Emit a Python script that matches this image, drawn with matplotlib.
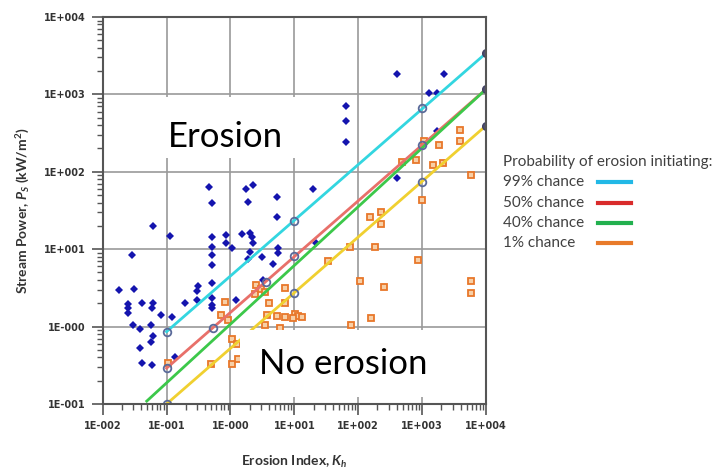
import matplotlib
matplotlib.use('Agg')
import matplotlib.pyplot as plt
from matplotlib.lines import Line2D
from matplotlib.patches import Rectangle

plt.rcParams['font.family'] = ['Lato', 'DejaVu Sans']
plt.rcParams['mathtext.fontset'] = 'custom'
plt.rcParams['mathtext.rm'] = 'Lato:weight=bold'
plt.rcParams['mathtext.it'] = 'Lato:style=italic:weight=bold'

# ---------------- data ----------------
# eroding sites (blue diamonds)
blue_x = [0.062, 0.113, 0.0284, 0.0182, 0.0309, 0.0252, 0.0252, 0.0252, 0.0417, 0.0585,
          0.062, 0.081, 0.122, 0.194, 0.030, 0.0384, 0.0564, 0.062, 0.0564, 0.0384,
          0.0417, 0.0585, 0.135, 0.313, 0.302, 0.302, 0.522, 0.522, 0.522, 0.522,
          0.522, 0.522, 0.522, 0.508, 0.466, 0.508, 1.73, 2.27, 1.85, 5.45,
          5.45, 19.8, 65.3, 65.3, 65.3, 0.851, 0.851, 1.045, 1.50, 2.02,
          2.15, 2.27, 2.02, 1.90, 3.08, 5.48, 5.48, 4.68, 21.5, 3.28,
          1.20, 399, 399, 2220, 1276, 1687, 1722]
blue_y = [20.2, 15.0, 8.4, 3.0, 3.1, 1.96, 1.72, 1.51, 2.0, 1.72,
          2.0, 1.40, 1.32, 2.0, 1.05, 0.92, 1.05, 0.76, 0.64, 0.525,
          0.342, 0.319, 0.408, 3.37, 2.91, 2.21, 14.5, 10.8, 8.4, 6.25,
          3.66, 2.34, 1.90, 1.72, 63, 39.2, 59.4, 67.5, 41.3, 46.9,
          26.1, 59.4, 708, 449, 239, 15.2, 12.0, 10.3, 15.7, 16.0,
          14.5, 12.1, 9.3, 7.47, 8.0, 10.3, 8.85, 6.44, 12.1, 3.96,
          2.22, 81.9, 1820, 1820, 1033, 1052, 340]

# non-eroding sites (orange squares)
orange_x = [0.106, 0.495, 1.045, 1.045, 1.25, 1.32, 0.71, 0.82, 0.914, 2.53,
            2.44, 3.03, 3.51, 7.21, 4.05, 7.21, 3.72, 5.35, 7.21, 10.3,
            11.4, 13.2, 9.5, 3.51, 6.01, 106, 255, 5800, 5800, 158,
            76.9, 489, 800, 1459, 1067, 1811, 3945, 3945, 2094, 5800,
            1005, 152, 224, 224, 74, 183, 34, 851]
orange_y = [0.342, 0.326, 0.326, 0.686, 0.596, 0.378, 1.43, 2.08, 1.2, 3.48,
            2.66, 3.09, 2.80, 3.15, 2.04, 2.04, 1.40, 1.37, 1.33, 1.47,
            1.37, 1.33, 1.29, 1.06, 0.96, 3.92, 3.22, 3.92, 2.74, 1.28,
            1.05, 135, 142, 122, 250, 222, 347, 250, 131, 91,
            43.2, 26.3, 30, 21, 10.6, 10.6, 7.1, 7.25]

# probability lines (end points)
p99_x = [0.1, 1e4]
p99_y = [0.86, 3400]
p50_x = [0.1, 1e4]
p50_y = [0.29, 1165]
p40_x = [0.049, 1e4]
p40_y = [0.109, 1165]
p01_x = [0.1, 1e4]
p01_y = [0.1, 394]

# open circles sitting on the lines
circ_x = [0.1, 10, 1000, 0.1, 0.54, 3.56, 10, 1000, 0.1, 10, 1000]
circ_y = [0.86, 23.3, 667, 0.289, 0.95, 3.8, 8.2, 222, 0.1, 2.72, 74.5]
end_x = [1e4, 1e4, 1e4]
end_y = [3400, 1165, 394]

xticks = [1e-2, 1e-1, 1, 1e1, 1e2, 1e3, 1e4]
xtick_labels = ['1E-002', '1E-001', '1E-000', '1E+001', '1E+002', '1E+003', '1E+004']
yticks = [1e-1, 1, 1e1, 1e2, 1e3, 1e4]
ytick_labels = ['1E-001', '1E-000', '1E+001', '1E+002', '1E+003', '1E+004']

legend_labels = ['99% chance', '50% chance', '40% chance', '1% chance']
legend_colors = ['#22b8e6', '#d92b2b', '#22b04e', '#e87a2a']

# ---------------- figure ----------------
fig = plt.figure(figsize=(7.17, 4.69), dpi=100)
ax = fig.add_axes([0.1432, 0.1386, 0.5346, 0.8252])
ax.set_xscale('log')
ax.set_yscale('log')
ax.set_xlim(1e-2, 1e4)
ax.set_ylim(1e-1, 1e4)

ax.grid(True, which='major', color='#9a9a9a', lw=1.2)
ax.set_axisbelow(True)

ax.plot(blue_x, blue_y, 'D', color='#1414ae', ms=3.9, mew=0, zorder=3)
ax.plot(orange_x, orange_y, 's', mfc='#f7cfa6', mec='#e8772a', ms=4.6, mew=1.3, zorder=3)

ax.plot(p99_x, p99_y, color='#33d6e0', lw=2, zorder=4)
ax.plot(p50_x, p50_y, color='#e8706a', lw=2, zorder=4)
ax.plot(p40_x, p40_y, color='#3cc84a', lw=2, zorder=4)
ax.plot(p01_x, p01_y, color='#f0d030', lw=2, zorder=4)

ax.plot(circ_x, circ_y, 'o', mfc='none', mec='#5a6a9a', ms=5.5, mew=1.3, zorder=5)
ax.plot(end_x, end_y, 'o', mfc='#505070', mec='#404060', ms=5.5, mew=1, zorder=5)

# white boxes behind the region labels
ax.add_patch(Rectangle((0.084, 0.636), 0.43, 0.157, transform=ax.transAxes,
                       facecolor='white', edgecolor='none', zorder=6))
ax.add_patch(Rectangle((0.358, 0.018), 0.634, 0.173, transform=ax.transAxes,
                       facecolor='white', edgecolor='none', zorder=6))
ax.text(0.320, 0.690, 'Erosion', transform=ax.transAxes, fontsize=25,
        ha='center', va='center', zorder=7)
ax.text(0.627, 0.103, 'No erosion', transform=ax.transAxes, fontsize=25,
        ha='center', va='center', zorder=7)

for s in ax.spines.values():
    s.set_color('#555555')
    s.set_linewidth(1.5)
    s.set_zorder(8)

ax.set_xticks(xticks)
ax.set_xticklabels(xtick_labels)
ax.set_yticks(yticks)
ax.set_yticklabels(ytick_labels)
ax.tick_params(which='major', length=8, width=1.2, color='#555555', pad=4,
               labelsize=7.5, labelcolor='#333333')
ax.tick_params(which='minor', length=4, width=1, color='#555555')
for lbl in ax.get_xticklabels() + ax.get_yticklabels():
    lbl.set_fontweight('bold')
    lbl.set_family('DejaVu Sans')
    lbl.set_fontsize(7)

ax.set_xlabel('Erosion Index, $K_h$', fontsize=10, fontweight='bold',
              color='#333333', labelpad=17)
ax.set_ylabel('Stream Power, $P_S$ (kW/m$^2$)', fontsize=10, fontweight='bold',
              color='#333333', labelpad=9)

# legend drawn by hand to the right of the axes
fig.text(0.701, 1 - 162 / 469, 'Probability of erosion initiating:', fontsize=11,
         color='#404040', va='center')
for i, (lab, col) in enumerate(zip(legend_labels, legend_colors)):
    yy = 1 - (182.5 + 20.3 * i) / 469
    fig.text(0.701, yy, lab, fontsize=11, color='#404040', va='center')
    fig.add_artist(Line2D([598 / 717, 631 / 717], [yy, yy], color=col, lw=3))

fig.savefig('out.png', dpi=100)
